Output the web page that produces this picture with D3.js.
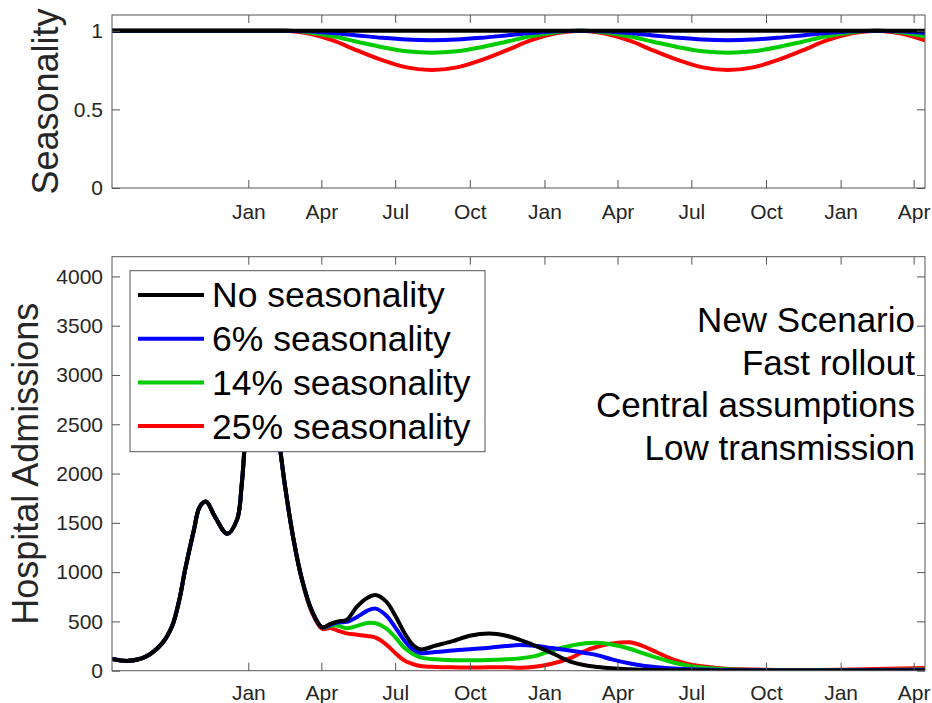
<!DOCTYPE html>
<html>
<head>
<meta charset="utf-8">
<script src="https://cdn.jsdelivr.net/npm/d3@7"></script>
<style>
  body { margin: 0; background: #fff; }
  svg { display: block; font-family: "Liberation Sans", Arial, Helvetica, sans-serif; }
</style>
</head>
<body>
<svg id="chart" width="932" height="703"></svg>
<script>
// month ticks shared by both panels
const tickDates = ["2021-01-01", "2021-04-01", "2021-07-01", "2021-10-01", "2022-01-01",
  "2022-04-01", "2022-07-01", "2022-10-01", "2023-01-01", "2023-04-01"];
const xStart = "2020-07-17", xEnd = "2023-04-15";

const seriesNames = ["No seasonality", "6% seasonality", "14% seasonality", "25% seasonality"];
const seriesColors = ["#000000", "#0000ff", "#00cc00", "#ff0000"];

// top panel: seasonality multiplier
const seasonDates = ["2020-07-17", "2021-02-15", "2021-03-15", "2021-04-15", "2021-05-15", "2021-06-15",
  "2021-07-15", "2021-08-15", "2021-09-15", "2021-10-15", "2021-11-15", "2021-12-15", "2022-01-15",
  "2022-02-15", "2022-03-15", "2022-04-15", "2022-05-15", "2022-06-15", "2022-07-15", "2022-08-15",
  "2022-09-15", "2022-10-15", "2022-11-15", "2022-12-15", "2023-01-15", "2023-02-15", "2023-03-15", "2023-04-15"];
const seasonNone = [1, 1, 1, 1, 1, 1, 1, 1, 1, 1, 1, 1, 1, 1, 1, 1, 1, 1, 1, 1, 1, 1, 1, 1, 1, 1, 1, 1];
const season6 = [1, 1, 0.996, 0.985, 0.97, 0.955, 0.944, 0.94, 0.944, 0.955, 0.97, 0.985, 0.996,
  1, 0.996, 0.985, 0.97, 0.955, 0.944, 0.94, 0.944, 0.955, 0.97, 0.985, 0.996, 1, 0.996, 0.985];
const season14 = [1, 1, 0.991, 0.965, 0.93, 0.895, 0.869, 0.86, 0.869, 0.895, 0.93, 0.965, 0.991,
  1, 0.991, 0.965, 0.93, 0.895, 0.869, 0.86, 0.869, 0.895, 0.93, 0.965, 0.991, 1, 0.991, 0.965];
const season25 = [1, 1, 0.983, 0.938, 0.875, 0.813, 0.767, 0.75, 0.767, 0.813, 0.875, 0.938, 0.983,
  1, 0.983, 0.938, 0.875, 0.813, 0.767, 0.75, 0.767, 0.813, 0.875, 0.938, 0.983, 1, 0.983, 0.938];

// bottom panel: hospital admissions
const admDates = ["2020-07-17", "2020-08-06", "2020-08-27", "2020-09-17", "2020-09-29", "2020-10-08",
  "2020-10-15", "2020-10-26", "2020-11-02", "2020-11-10", "2020-11-21", "2020-12-06", "2020-12-18",
  "2020-12-24", "2021-01-01", "2021-01-16", "2021-02-01", "2021-02-10", "2021-02-16", "2021-02-26",
  "2021-03-08", "2021-03-20", "2021-04-02", "2021-04-12", "2021-04-22", "2021-05-02", "2021-05-15",
  "2021-05-28", "2021-06-07", "2021-06-20", "2021-07-01", "2021-07-12", "2021-07-22", "2021-08-01",
  "2021-08-20", "2021-09-10", "2021-10-01", "2021-10-25", "2021-11-15", "2021-12-01", "2021-12-20",
  "2022-01-10", "2022-02-01", "2022-02-20", "2022-03-08", "2022-03-25", "2022-04-15", "2022-05-01",
  "2022-05-20", "2022-06-10", "2022-07-01", "2022-08-01", "2022-09-01", "2022-10-15", "2023-01-01", "2023-04-15"];
const admNone = [120, 100, 140, 280, 450, 720, 1020, 1430, 1660, 1715, 1560, 1390, 1530,
  1900, 2800, 3800, 2800, 2200, 1830, 1320, 930, 615, 440, 475, 500, 514, 650,
  740, 767, 700, 560, 390, 270, 217, 255, 300, 355, 378, 355, 315, 255,
  180, 95, 55, 38, 25, 15, 10, 7, 5, 4, 3, 2, 1, 1, 2];
const adm6 = [120, 100, 140, 280, 450, 720, 1020, 1430, 1660, 1715, 1560, 1390, 1530,
  1900, 2800, 3800, 2800, 2200, 1830, 1320, 930, 615, 440, 465, 490, 495, 545,
  610, 630, 560, 440, 310, 220, 180, 190, 205, 218, 233, 250, 260, 252,
  230, 205, 180, 155, 115, 75, 52, 35, 22, 14, 8, 5, 3, 3, 6];
const adm14 = [120, 100, 140, 280, 450, 720, 1020, 1430, 1660, 1715, 1560, 1390, 1530,
  1900, 2800, 3800, 2800, 2200, 1830, 1320, 930, 612, 438, 455, 455, 430, 455,
  485, 482, 430, 340, 235, 175, 136, 115, 107, 106, 108, 115, 125, 148,
  205, 250, 278, 284, 265, 225, 180, 130, 80, 45, 20, 10, 5, 5, 12];
const adm25 = [120, 100, 140, 280, 450, 720, 1020, 1430, 1660, 1715, 1560, 1390, 1530,
  1900, 2800, 3800, 2800, 2200, 1830, 1320, 925, 600, 425, 432, 405, 379, 365,
  352, 335, 265, 180, 105, 70, 48, 38, 34, 33, 34, 36, 30, 40,
  70, 125, 200, 245, 275, 288, 255, 185, 110, 60, 28, 15, 8, 10, 28];

const noteLines = ["New Scenario", "Fast rollout", "Central assumptions", "Low transmission"];

const parse = d3.timeParse("%Y-%m-%d");
const svg = d3.select("#chart");
const left = 112, right = 925;

const x = d3.scaleTime().domain([parse(xStart), parse(xEnd)]).range([left, right]);
const yTop = d3.scaleLinear().domain([0, 1.1]).range([188, 15]);
const yBot = d3.scaleLinear().domain([0, 4200]).range([670.7, 256.7]);

function drawPanel(y, yTicks, yFmt, labelPad, clipId, dates, series, curve, ylabel, labelX) {
  const [y0, y1] = y.range();
  const g = svg.append("g");

  svg.append("clipPath").attr("id", clipId)
    .append("rect").attr("x", left).attr("y", y1).attr("width", right - left).attr("height", y0 - y1);

  const line = d3.line()
    .x((d, i) => x(parse(dates[i])))
    .y(d => y(d))
    .curve(curve);

  // draw reversed so black ends up on top
  const lines = g.append("g").attr("clip-path", `url(#${clipId})`);
  for (let i = series.length - 1; i >= 0; i--) {
    lines.append("path")
      .attr("d", line(series[i]))
      .attr("fill", "none")
      .attr("stroke", seriesColors[i])
      .attr("stroke-width", 4)
      .attr("stroke-linejoin", "round");
  }

  const ticks = tickDates.map(parse);
  const ax = g.append("g");
  ax.append("g").attr("transform", `translate(0,${y0})`)
    .call(d3.axisBottom(x).tickValues(ticks).tickFormat(d3.timeFormat("%b"))
      .tickSizeInner(-8).tickSizeOuter(0).tickPadding(labelPad));
  ax.append("g").attr("transform", `translate(0,${y1})`)
    .call(d3.axisTop(x).tickValues(ticks).tickFormat("").tickSizeInner(-8).tickSizeOuter(0));
  ax.append("g").attr("transform", `translate(${left},0)`)
    .call(d3.axisLeft(y).tickValues(yTicks).tickFormat(yFmt)
      .tickSizeInner(-8).tickSizeOuter(0).tickPadding(9));
  ax.append("g").attr("transform", `translate(${right},0)`)
    .call(d3.axisRight(y).tickValues(yTicks).tickFormat("").tickSizeInner(-8).tickSizeOuter(0));
  ax.selectAll(".domain").remove();
  ax.selectAll(".tick line").attr("stroke", "#555");
  ax.selectAll(".tick text").attr("fill", "#262626")
    .style("font-size", "21px").style("font-family", "'Liberation Sans', Arial, sans-serif");

  g.append("rect").attr("x", left).attr("y", y1).attr("width", right - left).attr("height", y0 - y1)
    .attr("fill", "none").attr("stroke", "#555").attr("stroke-width", 1);

  g.append("text")
    .attr("transform", `translate(${labelX},${(y0 + y1) / 2}) rotate(-90)`)
    .attr("text-anchor", "middle")
    .attr("fill", "#262626")
    .style("font-size", "36px")
    .text(ylabel);
  return g;
}

drawPanel(yTop, [0, 0.5, 1], d => String(d), 16, "clipTop", seasonDates,
  [seasonNone, season6, season14, season25], d3.curveMonotoneX, "Seasonality", 58);

const bottom = drawPanel(yBot, d3.range(0, 4001, 500), d3.format("d"), 14, "clipBot", admDates,
  [admNone, adm6, adm14, adm25], d3.curveCatmullRom.alpha(0.5), "Hospital Admissions", 38);

// legend
const legend = bottom.append("g");
legend.append("rect")
  .attr("x", 130).attr("y", 270.7).attr("width", 355).attr("height", 181)
  .attr("fill", "#fff").attr("stroke", "#555").attr("stroke-width", 1);
seriesNames.forEach((name, i) => {
  const ly = 295 + i * 43.7;
  legend.append("line")
    .attr("x1", 138).attr("x2", 204).attr("y1", ly).attr("y2", ly)
    .attr("stroke", seriesColors[i]).attr("stroke-width", 4);
  legend.append("text")
    .attr("x", 212).attr("y", ly).attr("dy", "0.35em")
    .style("font-size", "35.5px").attr("fill", "#000")
    .text(name);
});

// scenario note
noteLines.forEach((t, i) => {
  bottom.append("text")
    .attr("x", 915).attr("y", 332 + i * 42.6)
    .attr("text-anchor", "end")
    .style("font-size", "35px").attr("fill", "#000")
    .text(t);
});
</script>
</body>
</html>
